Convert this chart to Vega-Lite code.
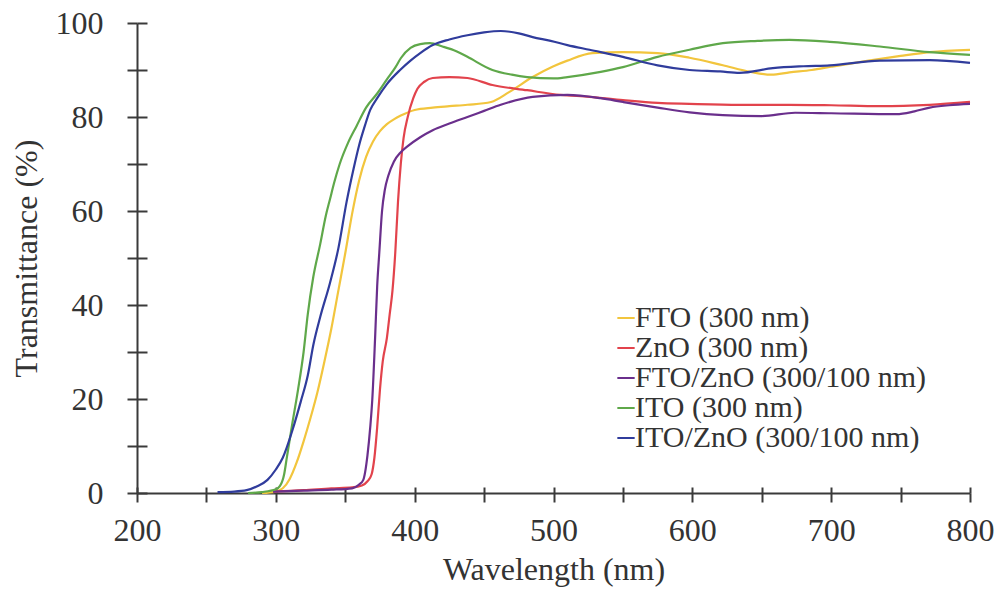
{
  "$schema": "https://vega.github.io/schema/vega-lite/v6.json",
  "width": 833,
  "height": 470,
  "autosize": "none",
  "padding": {"left": 137, "top": 23, "right": 33, "bottom": 97},
  "background": "white",
  "config": {"font": "Liberation Serif", "view": {"stroke": null}},
  "data": {"values": [
    {"s":"FTO (300 nm)","w":290,"t":0},{"s":"FTO (300 nm)","w":300,"t":0.3},{"s":"FTO (300 nm)","w":305,"t":1},{"s":"FTO (300 nm)","w":310,"t":3},{"s":"FTO (300 nm)","w":315,"t":6.5},{"s":"FTO (300 nm)","w":320,"t":11},{"s":"FTO (300 nm)","w":325,"t":16},{"s":"FTO (300 nm)","w":330,"t":21.5},{"s":"FTO (300 nm)","w":335,"t":28},{"s":"FTO (300 nm)","w":340,"t":35},{"s":"FTO (300 nm)","w":345,"t":43},{"s":"FTO (300 nm)","w":350,"t":51},{"s":"FTO (300 nm)","w":355,"t":59.5},{"s":"FTO (300 nm)","w":360,"t":66.5},{"s":"FTO (300 nm)","w":365,"t":71.5},{"s":"FTO (300 nm)","w":370,"t":74.8},{"s":"FTO (300 nm)","w":375,"t":77},{"s":"FTO (300 nm)","w":380,"t":78.5},{"s":"FTO (300 nm)","w":385,"t":79.5},{"s":"FTO (300 nm)","w":390,"t":80.3},{"s":"FTO (300 nm)","w":400,"t":81.5},{"s":"FTO (300 nm)","w":413,"t":82},{"s":"FTO (300 nm)","w":425,"t":82.3},{"s":"FTO (300 nm)","w":438,"t":82.6},{"s":"FTO (300 nm)","w":455,"t":83.2},{"s":"FTO (300 nm)","w":468,"t":85.3},{"s":"FTO (300 nm)","w":485,"t":88.5},{"s":"FTO (300 nm)","w":500,"t":90.8},{"s":"FTO (300 nm)","w":510,"t":92},{"s":"FTO (300 nm)","w":528,"t":93.6},{"s":"FTO (300 nm)","w":550,"t":93.8},{"s":"FTO (300 nm)","w":575,"t":93.6},{"s":"FTO (300 nm)","w":598,"t":92.6},{"s":"FTO (300 nm)","w":622,"t":91},{"s":"FTO (300 nm)","w":642,"t":89.6},{"s":"FTO (300 nm)","w":657,"t":89},{"s":"FTO (300 nm)","w":670,"t":89.5},{"s":"FTO (300 nm)","w":686,"t":90},{"s":"FTO (300 nm)","w":700,"t":90.7},{"s":"FTO (300 nm)","w":727,"t":92},{"s":"FTO (300 nm)","w":750,"t":93},{"s":"FTO (300 nm)","w":771,"t":93.8},{"s":"FTO (300 nm)","w":800,"t":94.3},
    {"s":"ZnO (300 nm)","w":298,"t":0.3},{"s":"ZnO (300 nm)","w":320,"t":0.6},{"s":"ZnO (300 nm)","w":340,"t":1},{"s":"ZnO (300 nm)","w":355,"t":1.2},{"s":"ZnO (300 nm)","w":362,"t":1.6},{"s":"ZnO (300 nm)","w":366,"t":2.5},{"s":"ZnO (300 nm)","w":369,"t":4},{"s":"ZnO (300 nm)","w":371,"t":7.5},{"s":"ZnO (300 nm)","w":373,"t":14},{"s":"ZnO (300 nm)","w":375,"t":22},{"s":"ZnO (300 nm)","w":377,"t":28},{"s":"ZnO (300 nm)","w":380,"t":33},{"s":"ZnO (300 nm)","w":382,"t":38},{"s":"ZnO (300 nm)","w":384,"t":43},{"s":"ZnO (300 nm)","w":386,"t":51},{"s":"ZnO (300 nm)","w":388,"t":62},{"s":"ZnO (300 nm)","w":390,"t":70},{"s":"ZnO (300 nm)","w":392,"t":75.5},{"s":"ZnO (300 nm)","w":395,"t":80},{"s":"ZnO (300 nm)","w":399,"t":84},{"s":"ZnO (300 nm)","w":402,"t":86},{"s":"ZnO (300 nm)","w":407,"t":87.5},{"s":"ZnO (300 nm)","w":413,"t":88.3},{"s":"ZnO (300 nm)","w":425,"t":88.5},{"s":"ZnO (300 nm)","w":438,"t":88.3},{"s":"ZnO (300 nm)","w":456,"t":86.8},{"s":"ZnO (300 nm)","w":481,"t":85.7},{"s":"ZnO (300 nm)","w":505,"t":84.7},{"s":"ZnO (300 nm)","w":526,"t":84.3},{"s":"ZnO (300 nm)","w":550,"t":83.6},{"s":"ZnO (300 nm)","w":575,"t":83},{"s":"ZnO (300 nm)","w":598,"t":82.8},{"s":"ZnO (300 nm)","w":634,"t":82.6},{"s":"ZnO (300 nm)","w":670,"t":82.6},{"s":"ZnO (300 nm)","w":700,"t":82.5},{"s":"ZnO (300 nm)","w":735,"t":82.3},{"s":"ZnO (300 nm)","w":771,"t":82.6},{"s":"ZnO (300 nm)","w":800,"t":83.2},
    {"s":"FTO/ZnO (300/100 nm)","w":298,"t":0.3},{"s":"FTO/ZnO (300/100 nm)","w":320,"t":0.5},{"s":"FTO/ZnO (300/100 nm)","w":340,"t":0.7},{"s":"FTO/ZnO (300/100 nm)","w":355,"t":1},{"s":"FTO/ZnO (300/100 nm)","w":360,"t":1.8},{"s":"FTO/ZnO (300/100 nm)","w":363,"t":2.8},{"s":"FTO/ZnO (300/100 nm)","w":366,"t":8},{"s":"FTO/ZnO (300/100 nm)","w":368,"t":14},{"s":"FTO/ZnO (300/100 nm)","w":369.5,"t":20},{"s":"FTO/ZnO (300/100 nm)","w":371.5,"t":33},{"s":"FTO/ZnO (300/100 nm)","w":373,"t":44},{"s":"FTO/ZnO (300/100 nm)","w":374.5,"t":51},{"s":"FTO/ZnO (300/100 nm)","w":376.5,"t":60},{"s":"FTO/ZnO (300/100 nm)","w":378.5,"t":64.5},{"s":"FTO/ZnO (300/100 nm)","w":381,"t":67.5},{"s":"FTO/ZnO (300/100 nm)","w":385,"t":70.5},{"s":"FTO/ZnO (300/100 nm)","w":390,"t":72.5},{"s":"FTO/ZnO (300/100 nm)","w":395,"t":73.8},{"s":"FTO/ZnO (300/100 nm)","w":404,"t":75.7},{"s":"FTO/ZnO (300/100 nm)","w":413,"t":77.2},{"s":"FTO/ZnO (300/100 nm)","w":425,"t":78.6},{"s":"FTO/ZnO (300/100 nm)","w":438,"t":80},{"s":"FTO/ZnO (300/100 nm)","w":450,"t":81.3},{"s":"FTO/ZnO (300/100 nm)","w":462,"t":82.6},{"s":"FTO/ZnO (300/100 nm)","w":485,"t":84.3},{"s":"FTO/ZnO (300/100 nm)","w":510,"t":84.7},{"s":"FTO/ZnO (300/100 nm)","w":534,"t":84},{"s":"FTO/ZnO (300/100 nm)","w":550,"t":83.2},{"s":"FTO/ZnO (300/100 nm)","w":575,"t":82},{"s":"FTO/ZnO (300/100 nm)","w":598,"t":81},{"s":"FTO/ZnO (300/100 nm)","w":622,"t":80.4},{"s":"FTO/ZnO (300/100 nm)","w":650,"t":80.2},{"s":"FTO/ZnO (300/100 nm)","w":674,"t":80.9},{"s":"FTO/ZnO (300/100 nm)","w":700,"t":80.8},{"s":"FTO/ZnO (300/100 nm)","w":747,"t":80.6},{"s":"FTO/ZnO (300/100 nm)","w":760,"t":81.2},{"s":"FTO/ZnO (300/100 nm)","w":771,"t":82},{"s":"FTO/ZnO (300/100 nm)","w":785,"t":82.5},{"s":"FTO/ZnO (300/100 nm)","w":800,"t":82.8},
    {"s":"ITO (300 nm)","w":280,"t":0},{"s":"ITO (300 nm)","w":290,"t":0.2},{"s":"ITO (300 nm)","w":300,"t":0.8},{"s":"ITO (300 nm)","w":303,"t":1.5},{"s":"ITO (300 nm)","w":306,"t":4},{"s":"ITO (300 nm)","w":308,"t":7.7},{"s":"ITO (300 nm)","w":312,"t":15},{"s":"ITO (300 nm)","w":316,"t":22},{"s":"ITO (300 nm)","w":320,"t":30},{"s":"ITO (300 nm)","w":323,"t":38},{"s":"ITO (300 nm)","w":327,"t":46},{"s":"ITO (300 nm)","w":332,"t":53},{"s":"ITO (300 nm)","w":336,"t":59},{"s":"ITO (300 nm)","w":339,"t":62.5},{"s":"ITO (300 nm)","w":342,"t":66},{"s":"ITO (300 nm)","w":346,"t":70},{"s":"ITO (300 nm)","w":352,"t":74.5},{"s":"ITO (300 nm)","w":358,"t":78},{"s":"ITO (300 nm)","w":365,"t":82},{"s":"ITO (300 nm)","w":373,"t":85},{"s":"ITO (300 nm)","w":380,"t":88},{"s":"ITO (300 nm)","w":386,"t":90.5},{"s":"ITO (300 nm)","w":390,"t":92.5},{"s":"ITO (300 nm)","w":397,"t":94.7},{"s":"ITO (300 nm)","w":404,"t":95.5},{"s":"ITO (300 nm)","w":411,"t":95.7},{"s":"ITO (300 nm)","w":420,"t":95},{"s":"ITO (300 nm)","w":430,"t":94},{"s":"ITO (300 nm)","w":438,"t":92.8},{"s":"ITO (300 nm)","w":456,"t":90},{"s":"ITO (300 nm)","w":470,"t":89},{"s":"ITO (300 nm)","w":481,"t":88.5},{"s":"ITO (300 nm)","w":500,"t":88.2},{"s":"ITO (300 nm)","w":510,"t":88.5},{"s":"ITO (300 nm)","w":534,"t":89.6},{"s":"ITO (300 nm)","w":550,"t":90.6},{"s":"ITO (300 nm)","w":575,"t":92.8},{"s":"ITO (300 nm)","w":598,"t":94.3},{"s":"ITO (300 nm)","w":622,"t":95.7},{"s":"ITO (300 nm)","w":647,"t":96.2},{"s":"ITO (300 nm)","w":670,"t":96.4},{"s":"ITO (300 nm)","w":699,"t":96},{"s":"ITO (300 nm)","w":735,"t":95},{"s":"ITO (300 nm)","w":771,"t":93.8},{"s":"ITO (300 nm)","w":800,"t":93.2},
    {"s":"ITO/ZnO (300/100 nm)","w":258,"t":0.2},{"s":"ITO/ZnO (300/100 nm)","w":270,"t":0.3},{"s":"ITO/ZnO (300/100 nm)","w":279,"t":0.6},{"s":"ITO/ZnO (300/100 nm)","w":287,"t":1.5},{"s":"ITO/ZnO (300/100 nm)","w":294,"t":2.8},{"s":"ITO/ZnO (300/100 nm)","w":300,"t":5},{"s":"ITO/ZnO (300/100 nm)","w":305,"t":7.5},{"s":"ITO/ZnO (300/100 nm)","w":312,"t":13.4},{"s":"ITO/ZnO (300/100 nm)","w":318,"t":19.5},{"s":"ITO/ZnO (300/100 nm)","w":323,"t":25},{"s":"ITO/ZnO (300/100 nm)","w":327,"t":31.5},{"s":"ITO/ZnO (300/100 nm)","w":332,"t":37.5},{"s":"ITO/ZnO (300/100 nm)","w":339,"t":44.7},{"s":"ITO/ZnO (300/100 nm)","w":345,"t":52},{"s":"ITO/ZnO (300/100 nm)","w":351,"t":62},{"s":"ITO/ZnO (300/100 nm)","w":356,"t":69},{"s":"ITO/ZnO (300/100 nm)","w":360,"t":74},{"s":"ITO/ZnO (300/100 nm)","w":364,"t":78},{"s":"ITO/ZnO (300/100 nm)","w":368,"t":81.5},{"s":"ITO/ZnO (300/100 nm)","w":373,"t":84},{"s":"ITO/ZnO (300/100 nm)","w":380,"t":87},{"s":"ITO/ZnO (300/100 nm)","w":389.5,"t":90},{"s":"ITO/ZnO (300/100 nm)","w":397,"t":92},{"s":"ITO/ZnO (300/100 nm)","w":404,"t":93.6},{"s":"ITO/ZnO (300/100 nm)","w":413,"t":95.3},{"s":"ITO/ZnO (300/100 nm)","w":425,"t":96.5},{"s":"ITO/ZnO (300/100 nm)","w":438,"t":97.4},{"s":"ITO/ZnO (300/100 nm)","w":450,"t":98},{"s":"ITO/ZnO (300/100 nm)","w":462,"t":98.3},{"s":"ITO/ZnO (300/100 nm)","w":475,"t":97.8},{"s":"ITO/ZnO (300/100 nm)","w":485,"t":97},{"s":"ITO/ZnO (300/100 nm)","w":498,"t":96.2},{"s":"ITO/ZnO (300/100 nm)","w":510,"t":95.3},{"s":"ITO/ZnO (300/100 nm)","w":526,"t":94.3},{"s":"ITO/ZnO (300/100 nm)","w":550,"t":92.8},{"s":"ITO/ZnO (300/100 nm)","w":575,"t":91},{"s":"ITO/ZnO (300/100 nm)","w":598,"t":90},{"s":"ITO/ZnO (300/100 nm)","w":620,"t":89.7},{"s":"ITO/ZnO (300/100 nm)","w":634,"t":89.4},{"s":"ITO/ZnO (300/100 nm)","w":658,"t":90.4},{"s":"ITO/ZnO (300/100 nm)","w":680,"t":90.8},{"s":"ITO/ZnO (300/100 nm)","w":699,"t":91},{"s":"ITO/ZnO (300/100 nm)","w":735,"t":92},{"s":"ITO/ZnO (300/100 nm)","w":771,"t":92.1},{"s":"ITO/ZnO (300/100 nm)","w":800,"t":91.5}
  ]},
  "layer": [
    {
      "mark": {"type": "line", "strokeWidth": 2.2, "interpolate": "monotone"},
      "encoding": {
        "x": {"field": "w", "type": "quantitative", "scale": {"domain": [200, 800], "nice": false, "zero": false},
          "axis": {"orient": "bottom", "values": [200,250,300,350,400,450,500,550,600,650,700,750,800],
            "labelExpr": "datum.value % 100 == 0 ? datum.label : ''", "labelFlush": false, "labelOverlap": false,
            "title": "Wavelength (nm)", "grid": false, "domainColor": "#3a3a3a", "domainWidth": 2,
            "tickColor": "#3a3a3a", "tickWidth": 2, "tickSize": 9, "labelFontSize": 32, "labelColor": "#333333",
            "labelPadding": 13, "titleFontSize": 32, "titleFontWeight": "normal", "titleColor": "#333333", "titlePadding": 8}},
        "y": {"field": "t", "type": "quantitative", "scale": {"domain": [0, 100], "nice": false},
          "axis": {"orient": "left", "values": [0,10,20,30,40,50,60,70,80,90,100],
            "labelExpr": "datum.value % 20 == 0 ? datum.label : ''", "labelOverlap": false, "labelFlush": false,
            "title": "Transmittance (%)", "grid": false, "domainColor": "#3a3a3a", "domainWidth": 2,
            "tickColor": "#3a3a3a", "tickWidth": 2, "tickSize": 10, "labelFontSize": 32, "labelColor": "#333333",
            "labelPadding": 24, "titleFontSize": 32, "titleFontWeight": "normal", "titleColor": "#333333", "titlePadding": 12}},
        "color": {"field": "s", "type": "nominal",
          "scale": {"domain": ["FTO (300 nm)", "ZnO (300 nm)", "FTO/ZnO (300/100 nm)", "ITO (300 nm)", "ITO/ZnO (300/100 nm)"],
            "range": ["#f2c53d", "#e2434c", "#6a2f8c", "#5fa84a", "#303c9c"]},
          "legend": {"orient": "none", "legendX": 474, "legendY": 280, "title": null, "symbolType": "stroke",
            "symbolStrokeWidth": 2, "symbolSize": 300, "labelFontSize": 30, "labelColor": "#333333", "labelLimit": 0,
            "rowPadding": 0, "labelOffset": -6, "padding": 0}}
      }
    },
    {
      "mark": {"type": "line", "opacity": 0},
      "encoding": {
        "x": {"field": "w", "type": "quantitative",
          "axis": {"orient": "bottom", "values": [200,250,300,350,400,450,500,550,600,650,700,750,800],
            "labels": false, "domain": false, "grid": false, "title": null, "tickColor": "#3a3a3a", "tickWidth": 2, "tickSize": -6}},
        "y": {"field": "t", "type": "quantitative",
          "axis": {"orient": "left", "values": [0,10,20,30,40,50,60,70,80,90,100],
            "labels": false, "domain": false, "grid": false, "title": null, "tickColor": "#3a3a3a", "tickWidth": 2, "tickSize": -10}},
        "detail": {"field": "s"}
      }
    }
  ],
  "resolve": {"axis": {"x": "independent", "y": "independent"}}
}
